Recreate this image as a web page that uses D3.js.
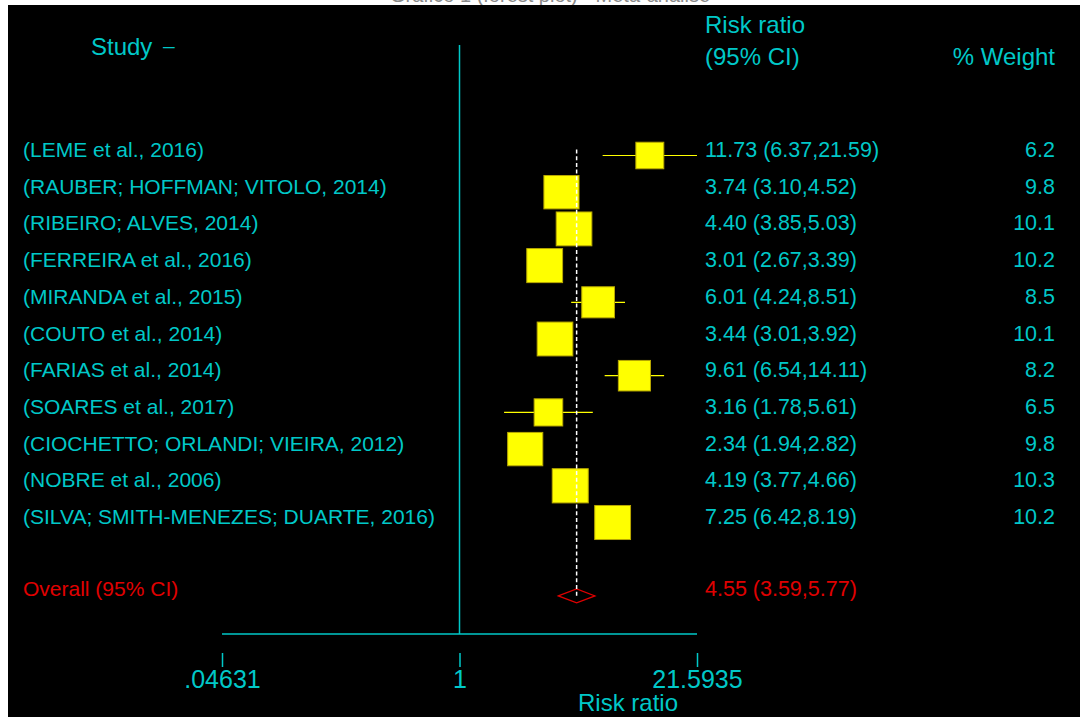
<!DOCTYPE html>
<html>
<head>
<meta charset="utf-8">
<script src="https://cdn.jsdelivr.net/npm/d3@7"></script>
<style>
  html, body { margin: 0; padding: 0; background: #fff; }
  svg { display: block; }
  text { font-family: "Liberation Sans", Arial, sans-serif; }
</style>
</head>
<body>
<svg id="chart" width="1080" height="717"></svg>
<script>
// Study-level estimates (risk ratio with 95% CI) and random-effects weights
const studies = [
  "(LEME et al., 2016)",
  "(RAUBER; HOFFMAN; VITOLO, 2014)",
  "(RIBEIRO; ALVES, 2014)",
  "(FERREIRA et al., 2016)",
  "(MIRANDA et al., 2015)",
  "(COUTO et al., 2014)",
  "(FARIAS et al., 2014)",
  "(SOARES et al., 2017)",
  "(CIOCHETTO; ORLANDI; VIEIRA, 2012)",
  "(NOBRE et al., 2006)",
  "(SILVA; SMITH-MENEZES; DUARTE, 2016)"
];
const rr     = [11.73, 3.74, 4.40, 3.01, 6.01, 3.44, 9.61, 3.16, 2.34, 4.19, 7.25];
const ciLow  = [6.37, 3.10, 3.85, 2.67, 4.24, 3.01, 6.54, 1.78, 1.94, 3.77, 6.42];
const ciHigh = [21.59, 4.52, 5.03, 3.39, 8.51, 3.92, 14.11, 5.61, 2.82, 4.66, 8.19];
const weight = [6.2, 9.8, 10.1, 10.2, 8.5, 10.1, 8.2, 6.5, 9.8, 10.3, 10.2];

// Pooled estimate
const overallLabel = "Overall (95% CI)";
const overallRR = 4.55, overallLow = 3.59, overallHigh = 5.77;

// Axis
const tickValues = [0.04631, 1, 21.5935];
const tickLabels = [".04631", "1", "21.5935"];
const axisTitle = "Risk ratio";

const CYAN = "#00c8c8";
const YELLOW = "#ffff00";
const RED = "#e00000";

const svg = d3.select("#chart");

// faint page caption above the plot region
svg.append("text")
  .attr("x", 550).attr("y", 2)
  .attr("text-anchor", "middle")
  .attr("font-size", 20)
  .attr("fill", "#8a8a8a")
  .text("Gráfico 1 (forest plot) - Meta-análise");

// plot region
svg.append("rect")
  .attr("x", 8).attr("y", 5)
  .attr("width", 1072).attr("height", 712)
  .attr("fill", "#000");

const x = d3.scaleLog()
  .domain([tickValues[0], tickValues[2]])
  .range([222, 697]);

// row positions (marker centres); pooled row sits after one blank row
const rowY = d3.scaleLinear().domain([0, 1]).range([155.5, 192.2]);
const overallRow = studies.length + 1;

const FS_NAME = 21;
const FS_NUM = 21.5;
const FS_HEAD = 24;

// headers
svg.append("text").attr("x", 91).attr("y", 55).attr("font-size", FS_HEAD).attr("fill", CYAN).text("Study");
svg.append("text").attr("x", 163).attr("y", 53).attr("font-size", 21).attr("fill", CYAN).text("–");
svg.append("text").attr("x", 705).attr("y", 33).attr("font-size", FS_HEAD).attr("fill", CYAN).text("Risk ratio");
svg.append("text").attr("x", 705).attr("y", 65).attr("font-size", FS_HEAD).attr("fill", CYAN).text("(95% CI)");
svg.append("text").attr("x", 1055).attr("y", 65).attr("font-size", FS_HEAD).attr("fill", CYAN)
  .attr("text-anchor", "end").text("% Weight");

// null line at RR = 1
svg.append("line")
  .attr("x1", x(1)).attr("x2", x(1))
  .attr("y1", 45).attr("y2", 634)
  .attr("stroke", CYAN).attr("stroke-width", 1.5);

// x axis baseline and ticks
svg.append("line")
  .attr("x1", x.range()[0]).attr("x2", x.range()[1])
  .attr("y1", 634).attr("y2", 634)
  .attr("stroke", CYAN).attr("stroke-width", 1.5);

const axisG = svg.append("g").attr("transform", "translate(0,653)");
const axis = d3.axisBottom(x)
  .tickValues(tickValues)
  .tickFormat((d, i) => tickLabels[i])
  .tickSize(14)
  .tickPadding(3);
axisG.call(axis);
axisG.select(".domain").remove();
axisG.selectAll(".tick line").attr("stroke", CYAN).attr("stroke-width", 1.5);
axisG.selectAll(".tick text")
  .attr("fill", CYAN)
  .attr("font-size", 25)
  .attr("font-family", "Liberation Sans, Arial, sans-serif");

svg.append("text")
  .attr("x", 628).attr("y", 711)
  .attr("text-anchor", "middle")
  .attr("font-size", FS_HEAD).attr("fill", CYAN)
  .text(axisTitle);

// study rows
const rows = studies.map((s, i) => ({
  name: s, rr: rr[i], lo: ciLow[i], hi: ciHigh[i], w: weight[i], y: rowY(i)
}));

const g = svg.append("g");

// confidence interval whiskers
g.selectAll("line.ci").data(rows).join("line")
  .attr("class", "ci")
  .attr("x1", d => x(d.lo)).attr("x2", d => x(d.hi))
  .attr("y1", d => d.y).attr("y2", d => d.y)
  .attr("stroke", YELLOW).attr("stroke-width", 1.2);

// weight boxes (area proportional to weight)
const side = d3.scaleSqrt().domain([0, 10.3]).range([0, 36]);
g.selectAll("rect.box").data(rows).join("rect")
  .attr("class", "box")
  .attr("x", d => x(d.rr) - side(d.w) / 2)
  .attr("y", d => d.y - side(d.w) * 0.95 / 2)
  .attr("width", d => side(d.w))
  .attr("height", d => side(d.w) * 0.95)
  .attr("fill", YELLOW)
  .attr("stroke", "#b8a800").attr("stroke-width", 1);

// study names
g.selectAll("text.name").data(rows).join("text")
  .attr("class", "name")
  .attr("x", 23).attr("y", d => d.y + 1.5)
  .attr("font-size", FS_NAME).attr("fill", CYAN)
  .text(d => d.name);

// estimates with CI
g.selectAll("text.est").data(rows).join("text")
  .attr("class", "est")
  .attr("x", 705).attr("y", d => d.y + 1.5)
  .attr("font-size", FS_NUM).attr("fill", CYAN)
  .text(d => `${d.rr.toFixed(2)} (${d.lo.toFixed(2)},${d.hi.toFixed(2)})`);

// weights
g.selectAll("text.wt").data(rows).join("text")
  .attr("class", "wt")
  .attr("x", 1055).attr("y", d => d.y + 1.5)
  .attr("text-anchor", "end")
  .attr("font-size", FS_NUM).attr("fill", CYAN)
  .text(d => d.w.toFixed(1));

// pooled estimate
const oy = rowY(overallRow);
svg.append("path")
  .attr("d", `M${x(overallLow)},${oy} L${x(overallRR)},${oy - 7} L${x(overallHigh)},${oy} L${x(overallRR)},${oy + 7} Z`)
  .attr("fill", "none").attr("stroke", RED).attr("stroke-width", 1.2);

// dashed line through pooled estimate
svg.append("line")
  .attr("x1", x(overallRR)).attr("x2", x(overallRR))
  .attr("y1", rowY(0) - 6).attr("y2", oy)
  .attr("stroke", "#ffffff").attr("stroke-width", 1.5)
  .attr("stroke-dasharray", "4,2.7");

svg.append("text")
  .attr("x", 23).attr("y", oy)
  .attr("font-size", FS_NAME).attr("fill", RED)
  .text(overallLabel);

svg.append("text")
  .attr("x", 705).attr("y", oy)
  .attr("font-size", FS_NUM).attr("fill", RED)
  .text(`${overallRR.toFixed(2)} (${overallLow.toFixed(2)},${overallHigh.toFixed(2)})`);
</script>
</body>
</html>
